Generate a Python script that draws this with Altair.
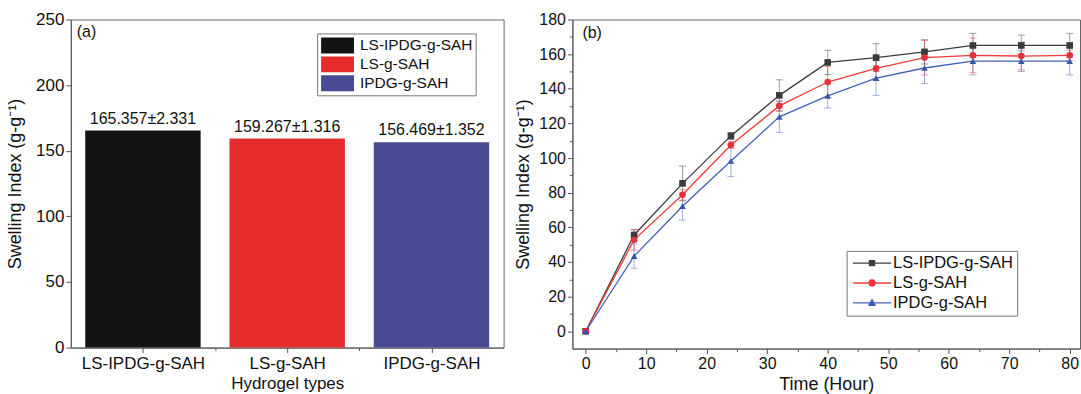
import altair as alt
import pandas as pd

# ---------------- data ----------------
hydrogels = ["LS-IPDG-g-SAH", "LS-g-SAH", "IPDG-g-SAH"]
bar_means = [165.357, 159.267, 156.469]
bar_labels = ["165.357±2.331", "159.267±1.316", "156.469±1.352"]
bar_colors = ["#141414", "#e52d2b", "#474b94"]

time_h = [0, 8, 16, 24, 32, 40, 48, 56, 64, 72, 80]
ls_ipdg_mean = [0.0, 55.6, 85.4, 112.8, 136.2, 155.2, 158.0, 161.3, 165.0, 165.0, 165.0]
ls_ipdg_err = [0.5, 3.0, 10.0, 2.0, 9.0, 7.0, 8.0, 7.0, 7.0, 6.0, 7.0]
ls_mean = [0.0, 52.8, 78.8, 107.5, 130.1, 143.9, 151.8, 158.0, 159.3, 158.9, 159.3]
ls_err = [1.0, 6.0, 3.0, 2.0, 3.0, 9.0, 7.0, 10.0, 10.0, 8.0, 3.0]
ipdg_mean = [0.0, 43.4, 72.2, 98.3, 123.8, 135.9, 146.2, 152.0, 156.0, 156.0, 156.0]
ipdg_err = [0.5, 7.0, 8.0, 9.0, 9.0, 7.0, 10.0, 9.0, 8.0, 6.0, 8.0]

line_colors = ["#3c3c3c", "#f03a3a", "#4262b8"]
marker_colors = ["#3a3a3a", "#e8303a", "#3a56a8"]
marker_shapes = ["square", "circle", "triangle-up"]

FONT = "Liberation Sans"


def tick_cond(mod):
    return {"condition": {"test": f"abs(datum.value % {mod}) < 1e-6", "value": 5}, "value": 3}


# ---------------- panel (a) ----------------
bar_df = pd.DataFrame({
    "idx": list(range(len(hydrogels))),
    "series": hydrogels,
    "mean": bar_means,
    "label": bar_labels,
})
name_expr = " : ".join(
    f"datum.value === {i} ? '{n}'" for i, n in enumerate(hydrogels)
) + " : ''"

xa = alt.X(
    "x0:Q",
    scale=alt.Scale(domain=[-0.5, 2.5], nice=False, zero=False),
    axis=alt.Axis(
        title="Hydrogel types",
        values=[0, 0.5, 1, 1.5, 2],
        labelExpr=name_expr,
        tickSize=tick_cond(1),
        labelPadding=2.5,
        labelFontSize=17,
        titleFontSize=17,
        titlePadding=5,
        labelFlush=False,
        labelOverlap=False,
    ),
)
ya = alt.Y(
    "mean:Q",
    scale=alt.Scale(domain=[0, 250], nice=False),
    axis=alt.Axis(
        title="Swelling Index (g-g⁻¹)",
        values=list(range(0, 251, 25)),
        labelExpr="datum.value % 50 === 0 ? datum.label : ''",
        tickSize=tick_cond(50),
        labelPadding=2,
        labelFontSize=17,
        titleFontSize=18,
        titlePadding=11,
        labelOverlap=False,
    ),
)

bars = alt.Chart(bar_df).transform_calculate(
    x0="datum.idx - 0.4", x1="datum.idx + 0.4"
).mark_bar().encode(
    x=xa,
    x2="x1:Q",
    y=ya,
    y2=alt.datum(0),
    color=alt.Color(
        "series:N",
        sort=hydrogels,
        scale=alt.Scale(domain=hydrogels, range=bar_colors),
        legend=alt.Legend(
            title=None,
            orient="none",
            legendX=247,
            legendY=14,
            symbolType="M-1,-1H3.125V1H-1Z",
            symbolSize=256,
            labelOffset=22,
            labelFontSize=15.5,
            labelFont=FONT,
            labelColor="#111",
            rowPadding=1,
            padding=3,
            strokeColor="#777",
            fillColor="white",
        ),
    ),
)

bar_text = alt.Chart(bar_df).transform_calculate(
    x0="datum.idx"
).mark_text(dy=-12, fontSize=16, font=FONT, color="#111").encode(
    x=alt.X("x0:Q"), y=alt.Y("mean:Q"), text="label:N"
)

tag_a = alt.Chart(pd.DataFrame({"t": ["(a)"]})).mark_text(
    align="left", baseline="middle", fontSize=16, font=FONT, color="#111"
).encode(x=alt.value(6), y=alt.value(13), text="t:N")

panel_a = alt.layer(bars, bar_text, tag_a).properties(width=434, height=329)

# ---------------- panel (b) ----------------
rows = []
for s, means, errs in [
    (hydrogels[0], ls_ipdg_mean, ls_ipdg_err),
    (hydrogels[1], ls_mean, ls_err),
    (hydrogels[2], ipdg_mean, ipdg_err),
]:
    for t, m, e in zip(time_h, means, errs):
        rows.append({"series": s, "time": t, "mean": m, "lo": m - e, "hi": m + e})
ts_df = pd.DataFrame(rows)

caps_rows = []
for r in rows:
    caps_rows.append({"series": r["series"], "time": r["time"], "v": r["lo"]})
    caps_rows.append({"series": r["series"], "time": r["time"], "v": r["hi"]})
caps_df = pd.DataFrame(caps_rows)

xscale = alt.Scale(domain=[-2.2, 81.7], nice=False, zero=False)
xb_axis = alt.Axis(
    title="Time (Hour)",
    values=list(range(0, 81, 5)),
    labelExpr="datum.value % 10 === 0 ? datum.label : ''",
    tickSize=tick_cond(10),
    labelPadding=1.5,
    labelFontSize=16,
    titleFontSize=18,
    titlePadding=5,
    labelFlush=False,
    labelOverlap=False,
)
yscale = alt.Scale(domain=[-10, 180], nice=False, zero=False)
yb_axis = alt.Axis(
    title="Swelling Index (g-g⁻¹)",
    values=list(range(0, 181, 10)),
    labelExpr="datum.value % 20 === 0 ? datum.label : ''",
    tickSize=tick_cond(20),
    labelPadding=2,
    labelFontSize=16,
    titleFontSize=18,
    titlePadding=6,
    labelOverlap=False,
)
cscale = alt.Scale(domain=hydrogels, range=line_colors)


def X(field):
    return alt.X(field, scale=xscale, axis=xb_axis)


def Y(field):
    return alt.Y(field, scale=yscale, axis=yb_axis)


err_rules = alt.Chart(ts_df).mark_rule(strokeWidth=1, opacity=0.5).encode(
    x=X("time:Q"),
    y=Y("lo:Q"),
    y2="hi:Q",
    color=alt.Color("series:N", scale=cscale, legend=None),
)
err_caps = alt.Chart(caps_df).mark_tick(
    orient="horizontal", size=7, thickness=1, opacity=0.5
).encode(
    x=X("time:Q"),
    y=Y("v:Q"),
    color=alt.Color("series:N", scale=cscale, legend=None),
)
lines = alt.Chart(ts_df).mark_line(strokeWidth=1.3).encode(
    x=X("time:Q"),
    y=Y("mean:Q"),
    color=alt.Color("series:N", scale=cscale, legend=None),
    detail="series:N",
)
point_layers = []
for s, shp, col in zip(hydrogels, marker_shapes, marker_colors):
    point_layers.append(
        alt.Chart(ts_df).transform_filter(alt.datum.series == s).mark_point(
            shape=shp, filled=True, size=44, color=col, opacity=1
        ).encode(x=X("time:Q"), y=Y("mean:Q"))
    )

legend_paths = [
    "M-1,0H5.4M1.78,-0.42H2.62V0.42H1.78Z",
    "M-1,0H5.4M1.7,0A0.5,0.5 0 1,0 2.7,0A0.5,0.5 0 1,0 1.7,0Z",
    "M-1,0H5.4M2.2,-0.55L2.72,0.4H1.68Z",
]
# legend lives at the top level of the concat: position relative to panel (a) origin
leg = alt.Legend(
    title=None,
    orient="none",
    legendX=778,
    legendY=232,
    symbolSize=144,
    symbolStrokeWidth=1.3,
    symbolOpacity=1,
    labelOffset=26,
    labelFontSize=16.5,
    labelFont=FONT,
    labelColor="#111",
    rowPadding=3,
    padding=4,
    strokeColor="#777",
    fillColor="white",
)
# legend-only layer: no marks drawn (explicit scale domains drive the legend)
legend_layer = alt.Chart(ts_df).transform_filter("datum.time < -1000").mark_point(
    filled=True, size=144, strokeWidth=1.3
).encode(
    x=X("time:Q"),
    y=Y("mean:Q"),
    fill=alt.Fill("series:N", scale=alt.Scale(domain=hydrogels, range=marker_colors), legend=leg),
    stroke=alt.Stroke("series:N", scale=alt.Scale(domain=hydrogels, range=line_colors), legend=leg),
    shape=alt.Shape("series:N", scale=alt.Scale(domain=hydrogels, range=legend_paths), legend=leg),
)

tag_b = alt.Chart(pd.DataFrame({"t": ["(b)"]})).mark_text(
    align="left", baseline="middle", fontSize=16, font=FONT, color="#111"
).encode(x=alt.value(10), y=alt.value(14), text="t:N")

panel_b = alt.layer(
    err_rules, err_caps, lines, *point_layers, legend_layer, tag_b
).properties(width=509, height=330)

chart = alt.hconcat(panel_a, panel_b, spacing=9).resolve_scale(
    color="independent"
).properties(
    padding={"left": 6, "top": 9, "right": 0, "bottom": 0}
).configure_view(
    stroke="#666", strokeWidth=1
).configure_axis(
    labelFont=FONT,
    labelColor="#111",
    titleFont=FONT,
    titleFontWeight="normal",
    titleColor="#111",
    domainColor="#555",
    tickColor="#555",
    grid=False,
    labelOverlap=False,
)

chart.save("out.html", embed_options={"renderer": "svg", "actions": False})
